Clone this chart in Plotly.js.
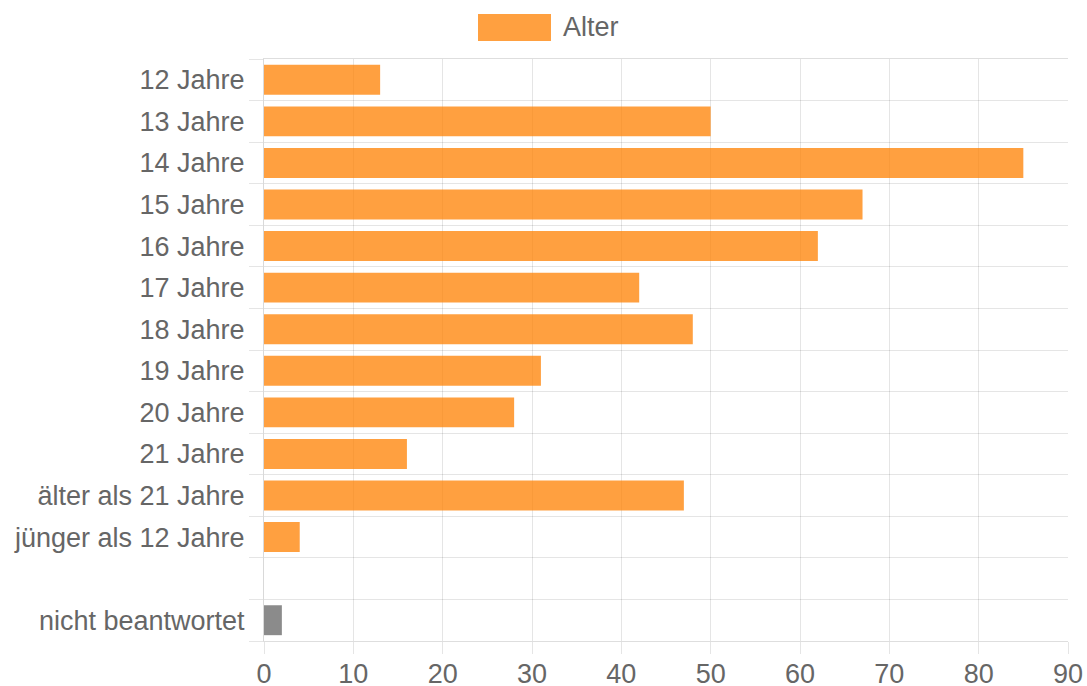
<!DOCTYPE html>
<html>
<head>
<meta charset="utf-8">
<script src="https://cdn.plot.ly/plotly-3.0.1.min.js"></script>
<style>
  html, body { margin: 0; padding: 0; background: #fff; }
  #chart { width: 1087px; height: 686px; }
</style>
</head>
<body>
<div id="chart"></div>
<script>
const categories = [
  "12 Jahre", "13 Jahre", "14 Jahre", "15 Jahre", "16 Jahre", "17 Jahre",
  "18 Jahre", "19 Jahre", "20 Jahre", "21 Jahre", "älter als 21 Jahre",
  "jünger als 12 Jahre", " ", "nicht beantwortet"
];
const values = [13, 50, 85, 67, 62, 42, 48, 31, 28, 16, 47, 4, null, 2];
const seriesName = "Alter";
const xTicks = [0, 10, 20, 30, 40, 50, 60, 70, 80, 90];

const orange = "rgba(255,128,0,0.75)";
const grey = "rgba(100,100,100,0.75)";
const barColors = categories.map(c => c === "nicht beantwortet" ? grey : orange);

const font = { family: "Liberation Sans, Arial, Helvetica, sans-serif", size: 27, color: "#666" };
const grid = "rgba(0,0,0,0.1)";

// category boundaries (between category slots) for gridlines
const n = categories.length;
const boundaries = [];
for (let i = 0; i <= n; i++) boundaries.push(i - 0.5);

const trace = {
  type: "bar",
  orientation: "h",
  name: seriesName,
  y: categories,
  x: values,
  marker: { color: barColors, line: { width: 0 } },
  hoverinfo: "x+y",
  showlegend: false
};

// empty helper trace so the boundary axis exists
const helper = {
  type: "scatter", mode: "markers",
  x: [], y: [], yaxis: "y2", showlegend: false, hoverinfo: "skip"
};

const layout = {
  width: 1087,
  height: 686,
  margin: { l: 264, r: 19, t: 59, b: 45, pad: 0 },
  paper_bgcolor: "#fff",
  plot_bgcolor: "#fff",
  font: font,
  bargap: 0.28,
  xaxis: {
    range: [0, 90],
    tickvals: xTicks,
    ticktext: xTicks.map(String),
    showgrid: true,
    gridcolor: grid,
    gridwidth: 1,
    zeroline: false,
    showline: true,
    mirror: true,
    linecolor: "#dedede",
    linewidth: 1,
    ticks: "outside",
    ticklen: 12,
    tickcolor: grid,
    tickfont: font,
    ticklabelstandoff: -3,
    fixedrange: true
  },
  yaxis: {
    type: "category",
    categoryorder: "array",
    categoryarray: categories,
    autorange: "reversed",
    showgrid: false,
    zeroline: false,
    showline: true,
    linecolor: "#d9d9d9",
    linewidth: 1,
    ticks: "",
    tickfont: font,
    ticklabelstandoff: 13,
    fixedrange: true
  },
  yaxis2: {
    overlaying: "y",
    anchor: "x",
    side: "left",
    range: [n - 0.5, -0.5],
    tickvals: boundaries,
    showticklabels: false,
    showgrid: true,
    gridcolor: grid,
    gridwidth: 1,
    zeroline: false,
    showline: false,
    ticks: "outside",
    ticklen: 14,
    tickcolor: grid,
    fixedrange: true
  },
  shapes: [{
    type: "rect",
    xref: "paper", yref: "paper",
    x0: (478 - 264) / 804, x1: (551 - 264) / 804,
    y0: (641 - 41) / 582, y1: (641 - 14) / 582,
    fillcolor: orange,
    line: { width: 0 }
  }],
  annotations: [{
    xref: "paper", yref: "paper",
    x: (561 - 264) / 804, y: (641 - 27) / 582,
    xanchor: "left", yanchor: "middle",
    text: seriesName,
    showarrow: false,
    font: font
  }]
};

Plotly.newPlot("chart", [trace, helper], layout, { displayModeBar: false, staticPlot: true });
</script>
</body>
</html>
